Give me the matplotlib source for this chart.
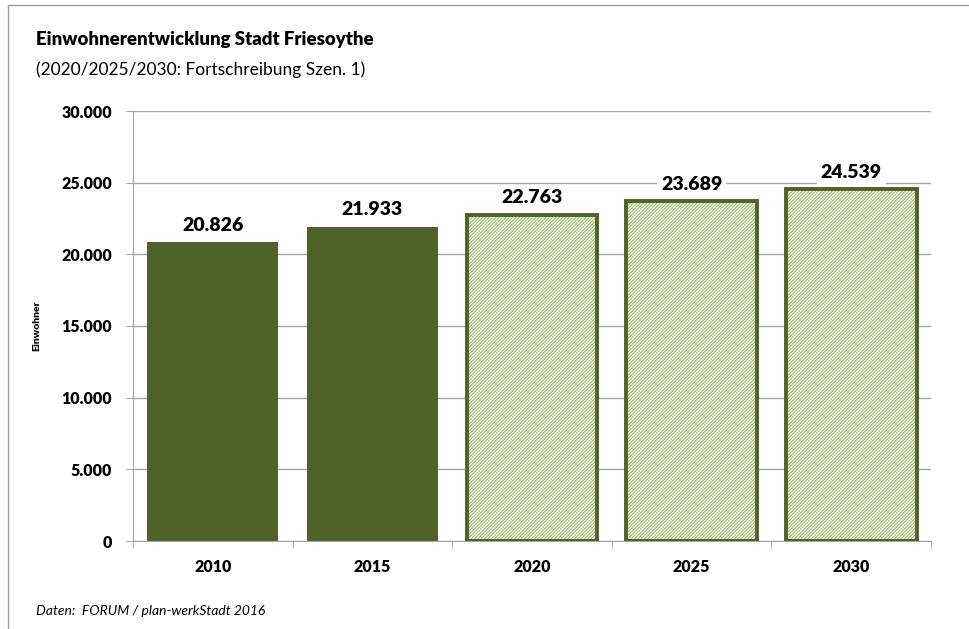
import matplotlib.pyplot as plt
from matplotlib.patches import Rectangle

plt.rcParams["font.family"] = ["Lato", "DejaVu Sans"]
plt.rcParams["hatch.linewidth"] = 0.9

years = ["2010", "2015", "2020", "2025", "2030"]
einwohner = [20826, 21933, 22763, 23689, 24539]
prognose = [False, False, True, True, True]
yticks = [0, 5000, 10000, 15000, 20000, 25000, 30000]

dark = "#4F6228"
light = "#A8C47C"
grid = "#A6A6A6"


def de(v):
    return f"{v:,}".replace(",", ".")


fig = plt.figure(figsize=(9.69, 6.29), dpi=100)
ax = fig.add_axes([133 / 969, 1 - 541 / 629, 798 / 969, 430 / 629])

# Rahmen um das Diagramm (nur links/oben sichtbar)
fig.patches.append(Rectangle((7.5 / 969, -0.2), 1.2, 1.2 - 4.5 / 629,
                             transform=fig.transFigure, fill=False,
                             edgecolor="#9A9A9A", linewidth=1))

x = list(range(len(years)))
for i, (v, p) in enumerate(zip(einwohner, prognose)):
    if p:
        ax.bar(i, v, width=0.82, color="white", edgecolor=light, hatch="//////////",
               linewidth=0, zorder=2)
        ax.bar(i, v, width=0.82, fill=False, edgecolor=dark, linewidth=2.8, zorder=3)
    else:
        ax.bar(i, v, width=0.82, color=dark, linewidth=0, zorder=2)
    ax.annotate(de(v), (i, v), xytext=(0, 6), textcoords="offset points",
                ha="center", va="bottom", fontsize=14, fontweight="heavy",
                bbox=dict(facecolor="white", edgecolor="none", pad=3), zorder=4)

ax.set_xlim(-0.5, 4.5)
ax.set_ylim(0, 30000)
ax.set_yticks(yticks)
ax.set_yticklabels([de(t) for t in yticks], fontsize=11.5, fontweight="heavy")
ax.set_xticks(x)
ax.set_xticklabels(years, fontsize=11.5, fontweight="heavy")
ax.set_xticks([i - 0.5 for i in range(len(years) + 1)], minor=True)
ax.tick_params(axis="x", which="major", length=0, pad=13)
ax.tick_params(axis="x", which="minor", length=5, color=grid, direction="out")
ax.tick_params(axis="y", length=5, color=grid, pad=10)
ax.yaxis.grid(True, color=grid, linewidth=1)
ax.set_axisbelow(True)
for s in ["top", "right"]:
    ax.spines[s].set_visible(False)
for s in ["left", "bottom"]:
    ax.spines[s].set_color(grid)

fig.text(37 / 969, 1 - 326 / 629, "Einwohner", rotation=90, fontsize=7.5,
         fontweight="heavy", ha="center", va="center")

fig.text(36 / 969, 1 - 40 / 629, "Einwohnerentwicklung Stadt Friesoythe",
         fontsize=13.4, fontweight="heavy", va="center")
fig.text(36 / 969, 1 - 70 / 629, "(2020/2025/2030: Fortschreibung Szen. 1)",
         fontsize=12.5, va="center")
fig.text(36 / 969, 1 - 611 / 629, "Daten:  FORUM / plan-werkStadt 2016",
         fontsize=10, style="italic", va="center")

fig.savefig("out.png", dpi=100)
